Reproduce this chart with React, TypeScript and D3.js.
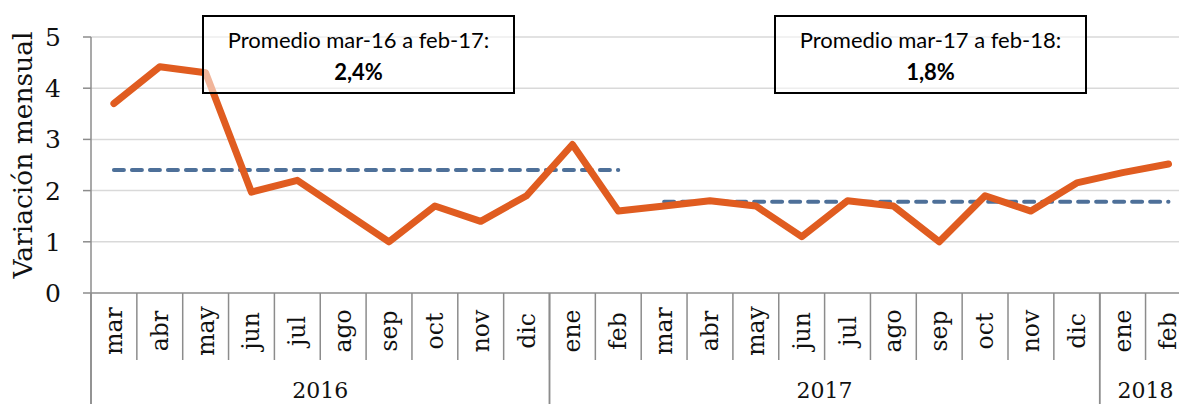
import React from 'react';
import * as d3 from 'd3';

// monthly variation, mar-2016 .. feb-2018
const months = ['mar', 'abr', 'may', 'jun', 'jul', 'ago', 'sep', 'oct', 'nov', 'dic', 'ene', 'feb',
  'mar', 'abr', 'may', 'jun', 'jul', 'ago', 'sep', 'oct', 'nov', 'dic', 'ene', 'feb'];
const values = [3.7, 4.42, 4.3, 1.97, 2.2, 1.6, 1.0, 1.7, 1.4, 1.9, 2.9, 1.6,
  1.7, 1.8, 1.7, 1.1, 1.8, 1.7, 1.0, 1.9, 1.6, 2.15, 2.35, 2.52];
// year groups: label, first index, count
const years = [
  { label: '2016', start: 0, count: 10 },
  { label: '2017', start: 10, count: 12 },
  { label: '2018', start: 22, count: 2 },
];
// averages: value, first index, last index, box text
const averages = [
  { value: 2.4, from: 0, to: 11, title: 'Promedio mar-16 a feb-17:', label: '2,4%' },
  { value: 1.78, from: 12, to: 23, title: 'Promedio mar-17 a feb-18:', label: '1,8%' },
];
const yTicks = [0, 1, 2, 3, 4, 5];

const W = 1179;
const H = 404;
const left = 91;
const right = 1191.4;
const top = 37;
const bottom = 293;

export default function App() {
  const idx = months.map((_, i) => i);
  const x = d3.scaleBand<number>().domain(idx).range([left, right]).paddingInner(0).paddingOuter(0);
  const bw = x.bandwidth();
  const cx = (i: number) => (x(i) as number) + bw / 2;
  const y = d3.scaleLinear().domain([0, 5]).range([bottom, top]);

  const line = d3.line<number>().x((_, i) => cx(i)).y(d => y(d));

  const serif = '"DejaVu Serif", serif';
  const sans = 'Lato, "Open Sans", sans-serif';
  const axisCol = '#8c8c8c';
  const txt = '#111';

  // annotation boxes (pixels)
  const boxes = [
    { x0: 203, x1: 514 },
    { x0: 775, x1: 1086 },
  ];

  return (
    <svg width={W} height={H} style={{ position: 'absolute', left: 0, top: 0, background: '#fff' }}>
      {/* grid */}
      {yTicks.filter(t => t > 0).map(t => (
        <line key={t} x1={left} x2={W} y1={y(t)} y2={y(t)} stroke="#d9d9d9" strokeWidth={1.5} />
      ))}
      {/* y axis */}
      <line x1={left} x2={left} y1={y(5)} y2={H} stroke={axisCol} strokeWidth={1.5} />
      {yTicks.map(t => (
        <g key={t}>
          <line x1={left - 8} x2={left} y1={y(t)} y2={y(t)} stroke={axisCol} strokeWidth={1.5} />
          <text x={61} y={y(t)} dy="0.36em" textAnchor="end" fontFamily={serif} fontSize={25} fill={txt}>{t}</text>
        </g>
      ))}
      <text transform={`translate(32,${(top + bottom) / 2 - 10}) rotate(-90)`} textAnchor="middle"
        fontFamily={serif} fontSize={26.5} fill={txt}>Variación mensual</text>

      {/* x axis */}
      <line x1={left} x2={W} y1={bottom} y2={bottom} stroke={axisCol} strokeWidth={1.5} />
      {idx.map(i => (
        <line key={'t' + i} x1={(x(i) as number) + bw} x2={(x(i) as number) + bw} y1={bottom} y2={360}
          stroke={axisCol} strokeWidth={1.5} />
      ))}
      {years.map(g => {
        const x0 = x(g.start) as number;
        const x1 = x0 + g.count * bw;
        return (
          <g key={g.label}>
            <line x1={x0} x2={x0} y1={bottom} y2={H} stroke={axisCol} strokeWidth={1.5} />
            <line x1={x1} x2={x1} y1={bottom} y2={H} stroke={axisCol} strokeWidth={1.5} />
            <text x={(x0 + x1) / 2} y={398} textAnchor="middle" fontFamily={serif} fontSize={22} fill={txt}>{g.label}</text>
          </g>
        );
      })}
      {months.map((m, i) => (
        <text key={'m' + i} transform={`translate(${cx(i) + 8},331) rotate(-90)`} textAnchor="middle"
          fontFamily={serif} fontSize={23.5} fill={txt}>{m}</text>
      ))}

      {/* average lines */}
      {averages.map((a, k) => (
        <line key={'a' + k} x1={cx(a.from)} x2={cx(a.to)} y1={y(a.value)} y2={y(a.value)}
          stroke="#4e7099" strokeWidth={4} strokeDasharray="10,8" strokeLinecap="round" />
      ))}

      {/* series */}
      <path d={line(values) as string} fill="none" stroke="#e05c20" strokeWidth={7}
        strokeLinecap="round" strokeLinejoin="round" />

      {/* annotation boxes */}
      {averages.map((a, k) => {
        const b = boxes[k];
        const mid = (b.x0 + b.x1) / 2;
        return (
          <g key={'b' + k}>
            <rect x={b.x0} y={16} width={b.x1 - b.x0} height={77} fill="#fff" fillOpacity={0.55}
              stroke="#000" strokeWidth={2} />
            <text x={mid} y={48} textAnchor="middle" fontFamily={sans} fontSize={22} fill="#000">{a.title}</text>
            <text x={mid} y={80} textAnchor="middle" fontFamily={sans} fontSize={22} fontWeight="bold" fill="#000">{a.label}</text>
          </g>
        );
      })}
    </svg>
  );
}
